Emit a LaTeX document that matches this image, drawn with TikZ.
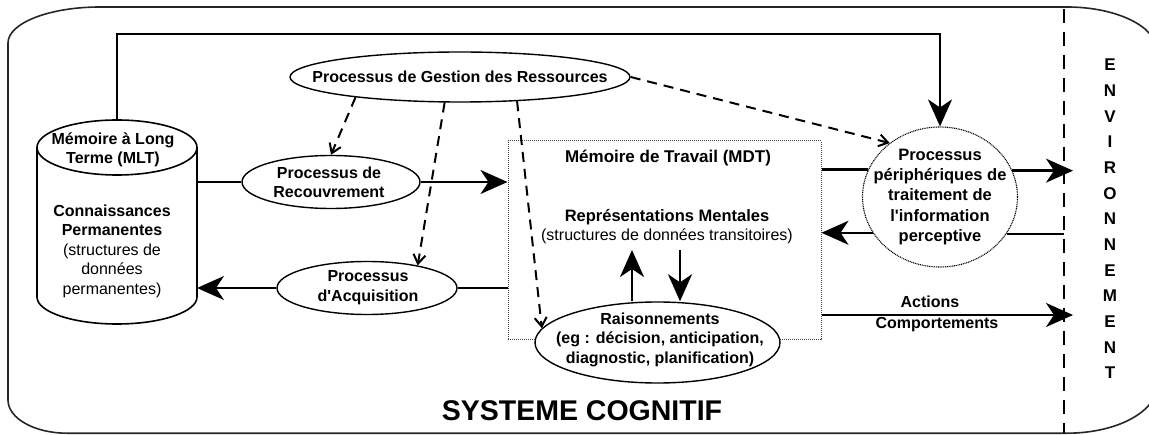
\documentclass[tikz,border=0pt]{standalone}
\usepackage{fontspec}
\setmainfont{Liberation Sans}
\usetikzlibrary{arrows.meta,shapes.geometric,calc}
\begin{document}
\begin{tikzpicture}[x=1pt,y=1pt,
  conn/.style={line width=2.3pt},
  bigarrow/.style={conn,-{Stealth[length=27pt,width=24pt,inset=8pt]}},
  dasharrow/.style={line width=2pt,dash pattern=on 10pt off 7pt,-{Straight Barb[length=9pt,width=12pt]}},
  ell/.style={ellipse,draw,line width=1.4pt,fill=white,inner sep=0pt},
  dotline/.style={draw,line width=1pt,dash pattern=on 1pt off 1pt},
  bf/.style={font=\fontsize{16}{19.5}\selectfont\bfseries,align=center},
  rg/.style={font=\fontsize{16}{19.5}\selectfont,align=center},
]
\useasboundingbox (0,0) rectangle (1149,434);
% outer frame
\draw[line width=1.6pt,black!85] (67,0.8) -- (1067,0.8)
  arc[start angle=270,end angle=360,x radius=90,y radius=48] -- (1157,383)
  arc[start angle=0,end angle=90,x radius=90,y radius=44] -- (100,427)
  arc[start angle=90,end angle=180,x radius=92,y radius=36] -- (8,34)
  arc[start angle=180,end angle=270,x radius=59,y radius=33.2] -- cycle;
% environment border
\draw[line width=1.6pt,dash pattern=on 14pt off 9pt] (1064,425) -- (1064,1);
\coordinate (envin) at (1073,0);
\coordinate (envline) at (1064,0);

% MLT cylinder
\node[minimum width=160,minimum height=204,inner sep=0pt,outer sep=0pt] (mlt) at (117,212) {};
\draw[line width=1.6pt,fill=white] (37,286.5) -- (37,137)
  arc[start angle=180,end angle=360,x radius=80,y radius=27] -- (197,286.5);
\draw[line width=1.6pt] (117,286.5) ellipse[x radius=80,y radius=27.5];
\node[bf] (mlttop) at (113,284) {Mémoire à Long\\Terme (MLT)};
\node[rg] (mltbody) at (112,183)
  {\textbf{Connaissances}\\\textbf{Permanentes}\\(structures de\\données\\permanentes)};

% MDT box
\node[dotline,black!75,minimum width=313,minimum height=199,inner sep=0pt] (mdt) at (664.5,193.5) {};
\node[font=\fontsize{17}{20}\selectfont\bfseries] (mdttitle) at (668,276) {Mémoire de Travail (MDT)};
\node[rg,font=\fontsize{16}{19}\selectfont] (rep) at (667,207.5)
  {{\fontsize{16.5}{19}\selectfont\bfseries Représentations Mentales}\\(structures de données transitoires)};

% ellipses
\node[ell,minimum width=340,minimum height=50] (gest) at (460,357) {};
\node[bf] (gesttxt) at (460,357) {Processus de Gestion des Ressources};
\node[ell,minimum width=178,minimum height=53] (rec) at (331,252) {};
\node[bf] (rectxt) at (329,251.5) {Processus de\\Recouvrement};
\node[ell,minimum width=180,minimum height=53] (acq) at (367,146) {};
\node[bf] (acqtxt) at (368,146.5) {Processus\\d\textquotesingle Acquisition};
\node[ell,minimum width=245,minimum height=81] (rais) at (657.5,91.5) {};
\node[bf] (raistxt) at (660,94.5) {Raisonnements\\(eg : décision, anticipation,\\diagnostic, planification)};
\node[ellipse,draw,line width=1.1pt,dash pattern=on 1pt off 0.8pt,fill=white,inner sep=0pt,
      minimum width=155,minimum height=140] (per) at (940,237) {};
\node[font=\fontsize{16.5}{20.2}\selectfont\bfseries,align=center] (pertxt) at (940,237)
  {Processus\\périphériques de\\traitement de\\l\textquotesingle information\\perceptive};

% connectors
\coordinate (fb) at (500,400);
\draw[bigarrow] (mlt.north) |- (fb) -| (per.north);
\draw[conn] (mlt.east |- rec.west) -- (rec.west);
\draw[bigarrow] (rec.east) -- (rec.east -| mdt.west);
\draw[conn] (acq.east -| mdt.west) -- (acq.east);
\draw[bigarrow] (acq.west) -- (acq.west -| mlt.east);
\draw[conn] (mdt.east |- per.159.3) -- (per.159.3);
\draw[bigarrow] (per.20.7) -- (per.20.7 -| envin);
\draw[conn] (per.331.6 -| envline) -- (per.331.6);
\draw[bigarrow] (per.208.4) -- (per.208.4 -| mdt.east);
\coordinate (act) at (0,119);
\draw[bigarrow] (mdt.east |- act) -- (act -| envin);
\node[bf] (actlbl) at (930,132) {Actions};
\node[bf] (comlbl) at (937,109) {Comportements};
\coordinate (ua) at (632,184);
\coordinate (da) at (680,184);
\draw[bigarrow] (rais.north -| ua) -- (ua);
\draw[bigarrow] (da) -- (rais.north -| da);
% resource management
\draw[dasharrow] (gest.191.4) -- (rec.north);
\draw[dasharrow] (gest.239) -- (acq.24);
\draw[dasharrow] (gest.337.6) -- (rais.173);
\draw[dasharrow] (gest.east) -- (per.133);

% titles
\node[font=\fontsize{28.5}{30}\selectfont\bfseries] (sys) at (582,23.3) {SYSTEME COGNITIF};
\node[font=\fontsize{17}{25.67}\selectfont\bfseries,align=center] (env) at (1110,215)
  {E\\N\\V\\I\\R\\O\\N\\N\\E\\M\\E\\N\\T};
\end{tikzpicture}
\end{document}
